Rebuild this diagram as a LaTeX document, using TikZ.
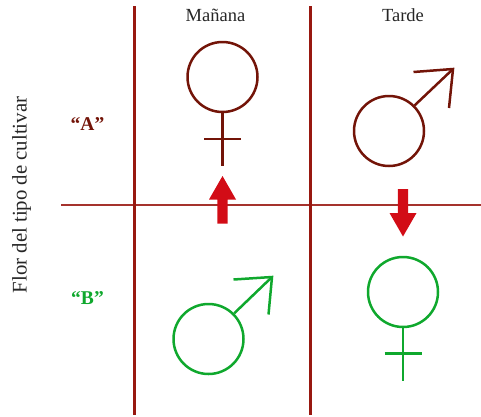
\documentclass[tikz,border=0pt]{standalone}
\usepackage{fontspec}
\setmainfont{Liberation Serif}
\definecolor{gridred}{RGB}{152,24,16}
\definecolor{thinred}{RGB}{165,50,45}
\definecolor{brownsym}{RGB}{115,20,8}
\definecolor{greensym}{RGB}{15,168,45}
\definecolor{arrowred}{RGB}{210,12,22}
\tikzset{
  gridline/.style={draw=gridred,line width=2.4pt},
  thinline/.style={draw=thinred,line width=1.3pt},
  ring/.style={circle,draw=#1,line width=2.5pt,minimum size=70pt,inner sep=0pt},
  sym/.style={draw=#1,line width=2.5pt,line join=miter},
  bigarrow/.style={fill=arrowred,draw=none},
  headtext/.style={font=\fontsize{18.5}{20}\selectfont,text=black!85,inner sep=0pt},
  grouplabel/.style={font=\fontsize{19.5}{20}\selectfont\bfseries,text=#1,inner sep=0pt},
}
\begin{document}
\begin{tikzpicture}[x=1pt,y=-1pt]
\useasboundingbox (0,0) rectangle (481,416);
% grid
\coordinate (v1t) at (134.5,6); \coordinate (v1b) at (134.5,415);
\coordinate (v2t) at (310.6,6); \coordinate (v2b) at (310.6,415);
\coordinate (hl) at (61,205); \coordinate (hr) at (481,205);
\draw[thinline] (hl) -- (hr);
\draw[gridline] (v1t) -- (v1b);
\draw[gridline] (v2t) -- (v2b);
% arrows
\fill[bigarrow] (222.5,176) -- (236,199.5) -- (227.7,199.5) -- (227.7,223.5) -- (217.3,223.5) -- (217.3,199.5) -- (209,199.5) -- cycle;
\fill[bigarrow] (403,236.5) -- (416.5,213) -- (408.2,213) -- (408.2,189) -- (397.8,189) -- (397.8,213) -- (389.5,213) -- cycle;
% brown female
\node[ring=brownsym] (fa) at (222.5,77) {};
\coordinate (fae) at (222.5,166);
\coordinate (fal) at (204,139); \coordinate (far) at (241,139);
\draw[sym=brownsym] (fa.south) -- (fae);
\draw[sym=brownsym] (fal) -- (far);
% brown male
\node[ring=brownsym] (ma) at (389,131) {};
\coordinate (mat) at (453,69);
\coordinate (mal) at (413.5,72); \coordinate (mar) at (449,108);
\draw[sym=brownsym] (ma.45) -- (mat);
\draw[sym=brownsym] (mal) -- (mat) -- (mar);
% green male
\node[ring=greensym] (mb) at (208.5,339) {};
\coordinate (mbt) at (272,277);
\coordinate (mbl) at (233.5,279.5); \coordinate (mbr) at (268.5,314.5);
\draw[sym=greensym] (mb.45) -- (mbt);
\draw[sym=greensym] (mbl) -- (mbt) -- (mbr);
% green female
\node[ring=greensym] (fb) at (403,292) {};
\coordinate (fbe) at (403,381);
\coordinate (fbl) at (384.5,353.5); \coordinate (fbr) at (422,353.5);
\draw[sym=greensym] (fb.south) -- (fbe);
\draw[sym=greensym] (fbl) -- (fbr);
% labels
\node[headtext] (man) at (215.5,15.5) {Mañana};
\node[headtext] (tar) at (403,15.5) {Tarde};
\node[grouplabel=brownsym] (la) at (87.5,124) {“A”};
\node[grouplabel=greensym] (lb) at (87.5,298) {“B”};
\node[headtext,font=\fontsize{20.8}{22}\selectfont,rotate=90] (flor) at (21.5,195) {Flor del tipo de cultivar};
\end{tikzpicture}
\end{document}
